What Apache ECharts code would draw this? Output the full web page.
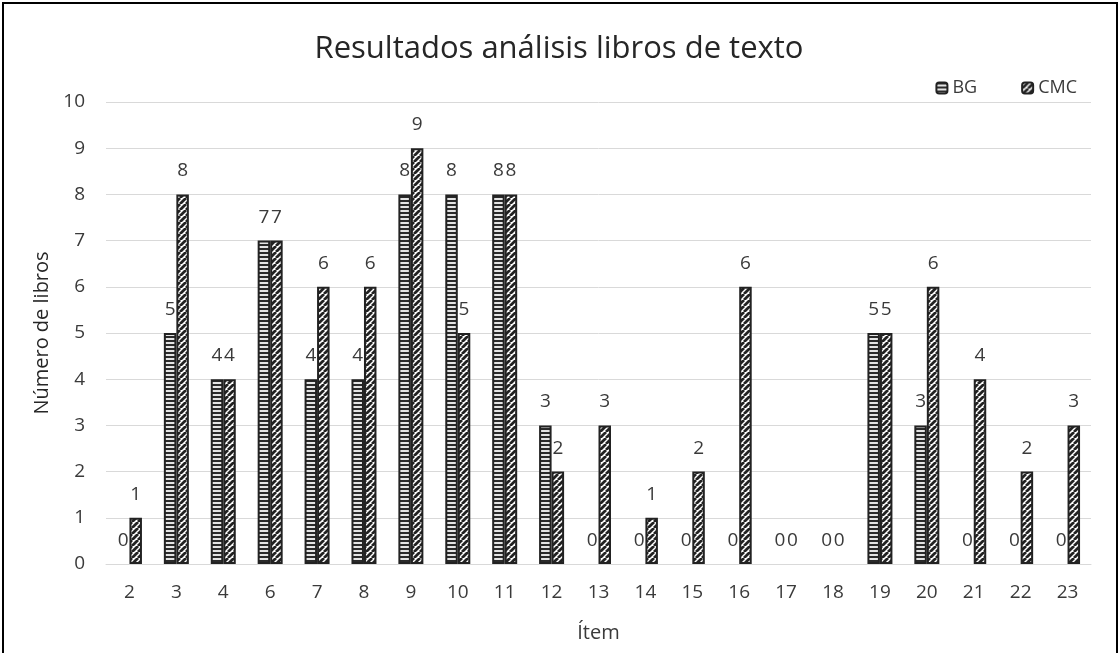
<!DOCTYPE html>
<html>
<head>
<meta charset="utf-8">
<script src="https://cdn.jsdelivr.net/npm/echarts@6/dist/echarts.min.js"></script>
<style>
  html, body { margin: 0; padding: 0; background: #fff; }
  #frame { position: absolute; left: 2px; top: 2px; width: 1112px; height: 660px; border: 2px solid #000; border-bottom: none; }
  #chart { position: absolute; left: 0; top: 0; width: 1118px; height: 653px; }
</style>
</head>
<body>
<div id="frame"></div>
<div id="chart"></div>
<script>
const items = ['2', '3', '4', '6', '7', '8', '9', '10', '11', '12', '13', '14', '15', '16', '17', '18', '19', '20', '21', '22', '23'];
const bg = [0, 5, 4, 7, 4, 4, 8, 8, 8, 3, 0, 0, 0, 0, 0, 0, 5, 3, 0, 0, 0];
const cmc = [1, 8, 4, 7, 6, 6, 9, 5, 8, 2, 3, 1, 2, 6, 0, 0, 5, 6, 4, 2, 3];
const yTicks = [0, 10, 1];

// horizontal stripes for BG
function stripes() {
    const c = document.createElement('canvas');
    c.width = 4; c.height = 4;
    const g = c.getContext('2d');
    g.fillStyle = '#e4e4e4';
    g.fillRect(0, 0, 4, 4);
    g.fillStyle = '#2a2a2a';
    g.fillRect(0, 0, 4, 2);
    return c;
}
// diagonal stripes for CMC
function diagonal() {
    const c = document.createElement('canvas');
    c.width = 6; c.height = 6;
    const g = c.getContext('2d');
    g.fillStyle = '#ffffff';
    g.fillRect(0, 0, 6, 6);
    g.strokeStyle = '#222';
    g.lineWidth = 2.8;
    g.beginPath();
    for (let k = -6; k <= 12; k += 6) {
        g.moveTo(k, 6);
        g.lineTo(k + 6, 0);
    }
    g.stroke();
    return c;
}

// zero bars are not drawn in the original, so drop their outline
function bars(values) {
    return values.map(v => v === 0 ? {value: 0, itemStyle: {borderWidth: 0}} : v);
}

const font = 'Open Sans';
const labelStyle = {show: true, position: 'top', distance: 14, fontSize: 19, color: '#3a3a3a', fontFamily: font};

const myChart = echarts.init(document.getElementById('chart'));
myChart.setOption({
    animation: false,
    title: {
        text: 'Resultados análisis libros de texto',
        left: 'center',
        top: 29,
        textStyle: {fontSize: 31, fontWeight: 'normal', color: '#262626', fontFamily: font}
    },
    legend: {
        right: 36,
        top: 74,
        itemWidth: 11,
        itemHeight: 11,
        itemGap: 44,
        textStyle: {fontSize: 18, color: '#3a3a3a', fontFamily: font}
    },
    grid: {left: 106, right: 27, top: 102, bottom: 89, containLabel: false},
    xAxis: {
        type: 'category',
        data: items,
        name: 'Ítem',
        nameLocation: 'middle',
        nameGap: 59,
        nameTextStyle: {fontSize: 20, color: '#3a3a3a', fontFamily: font},
        axisLine: {lineStyle: {color: '#d9d9d9'}},
        axisTick: {show: false},
        axisLabel: {fontSize: 19, color: '#3a3a3a', fontFamily: font, margin: 19}
    },
    yAxis: {
        type: 'value',
        min: yTicks[0],
        max: yTicks[1],
        interval: yTicks[2],
        name: 'Número de libros',
        nameLocation: 'middle',
        nameGap: 53,
        nameTextStyle: {fontSize: 20, color: '#262626', fontFamily: font},
        axisLine: {show: false},
        axisTick: {show: false},
        axisLabel: {fontSize: 19, color: '#3a3a3a', fontFamily: font, margin: 21},
        splitLine: {lineStyle: {color: '#d9d9d9'}}
    },
    series: [
        {
            name: 'BG',
            type: 'bar',
            data: bars(bg),
            barWidth: 12.5,
            barGap: '0%',
            itemStyle: {color: {image: stripes(), repeat: 'repeat'}, borderColor: '#222', borderWidth: 2},
            label: labelStyle
        },
        {
            name: 'CMC',
            type: 'bar',
            data: bars(cmc),
            barWidth: 12.5,
            itemStyle: {color: {image: diagonal(), repeat: 'repeat'}, borderColor: '#222', borderWidth: 2},
            label: labelStyle
        }
    ]
});
</script>
</body>
</html>
